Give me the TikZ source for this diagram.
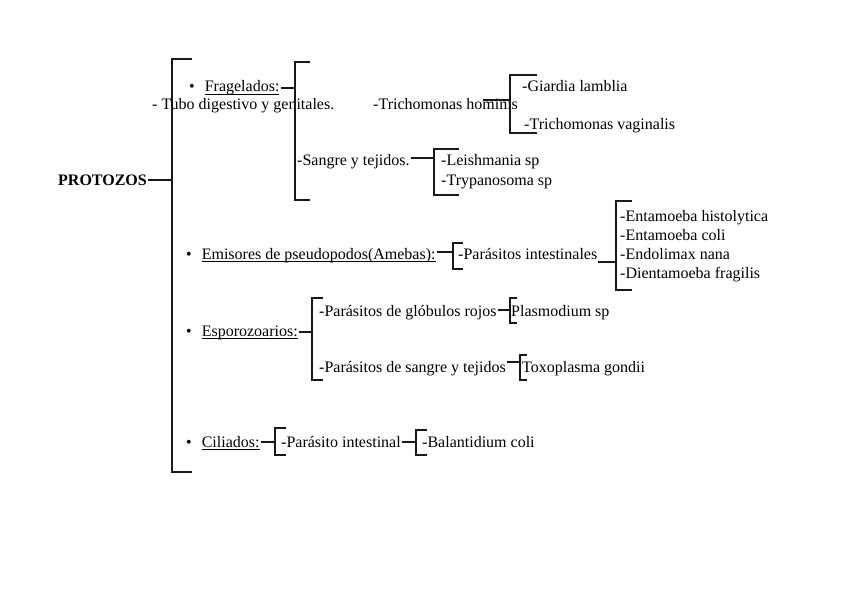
\documentclass[tikz,border=0pt]{standalone}
\usepackage{fontspec}
\setmainfont{Liberation Serif}
\usetikzlibrary{positioning}
\newlength\ulwd
\newcommand\ulabel[1]{\settowidth\ulwd{#1}\rlap{\rule[-2.6pt]{\ulwd}{0.8pt}}#1}

\begin{document}
\begin{tikzpicture}[
    x=1pt, y=-1pt,
    txt/.style={anchor=base west, inner xsep=1pt, inner ysep=0pt, font=\fontsize{16}{19}\selectfont},
    head/.style={txt, font=\fontsize{16}{19}\selectfont\bfseries},
    brk/.style={draw=black!90, line width=1.2pt},
    link/.style={draw=black!90, line width=1.2pt}
]
\useasboundingbox (0,0) rectangle (848,599);

% root
\node[head] (prot) at (57,185) {PROTOZOS};
\coordinate (cprot) at (172,180);
\draw[brk] (192,59) -| (172,472) -- (192,472);
\draw[link] (prot.east |- cprot) -- (cprot);

% Fragelados
\node[txt] (frag) at (188,92) {\textbullet\hspace{10pt}\ulabel{Fragelados:}};
\node[txt] (tubo) at (151,110) {- Tubo digestivo y genitales.};
\coordinate (cfrag) at (295,88);
\draw[brk] (310,62) -| (295,200) -- (310,200);
\draw[link] (frag.east |- cfrag) -- (cfrag);

\node[txt] (thom) at (372,110) {-Trichomonas hominis};
\node[txt] (giar) at (521,92) {-Giardia lamblia};
\node[txt] (tvag) at (523,129) {-Trichomonas vaginalis};
\coordinate (sthom) at (483,100);
\coordinate (cthom) at (510,100);
\draw[brk] (537,75) -| (510,133) -- (537,133);
\draw[link] (sthom) -- (cthom);

\node[txt] (sang) at (296,165) {-Sangre y tejidos.};
\node[txt] (leish) at (440,165) {-Leishmania sp};
\node[txt] (tryp) at (440,185) {-Trypanosoma sp};
\coordinate (csang) at (434,158);
\draw[brk] (459,149) -| (434,195) -- (459,195);
\draw[link] (sang.east |- csang) -- (csang);

% Amebas
\node[txt] (ameb) at (185,259) {\textbullet\hspace{10pt}\ulabel{Emisores de pseudopodos(Amebas):}};
\node[txt] (pint) at (457,259) {-Parásitos intestinales};
\coordinate (cameb) at (453,252);
\draw[brk] (463,243) -| (453,269) -- (463,269);
\draw[link] (ameb.east |- cameb) -- (cameb);

\node[txt] (ehis) at (619,221) {-Entamoeba histolytica};
\node[txt] (ecol) at (619,240) {-Entamoeba coli};
\node[txt] (enan) at (619,259) {-Endolimax nana};
\node[txt] (dfra) at (619,278) {-Dientamoeba fragilis};
\coordinate (cpint) at (616,262);
\draw[brk] (632,201) -| (616,290) -- (632,290);
\draw[link] (pint.east |- cpint) -- (cpint);

% Esporozoarios
\node[txt] (espo) at (185,336) {\textbullet\hspace{10pt}\ulabel{Esporozoarios:}};
\coordinate (cespo) at (312,332);
\draw[brk] (323,298) -| (312,380) -- (323,380);
\draw[link] (espo.east |- cespo) -- (cespo);

\node[txt] (pglo) at (318,316) {-Parásitos de glóbulos rojos};
\node[txt] (plas) at (510,316) {Plasmodium sp};
\coordinate (cpglo) at (510,310);
\draw[brk] (517,298) -| (510,323) -- (517,323);
\draw[link] (pglo.east |- cpglo) -- (cpglo);

\node[txt] (psan) at (318,372) {-Parásitos de sangre y tejidos};
\node[txt] (toxo) at (521,372) {Toxoplasma gondii};
\coordinate (cpsan) at (520,362);
\draw[brk] (527,355) -| (520,380) -- (527,380);
\draw[link] (psan.east |- cpsan) -- (cpsan);

% Ciliados
\node[txt] (cili) at (185,447) {\textbullet\hspace{10pt}\ulabel{Ciliados:}};
\node[txt] (pint2) at (280,447) {-Parásito intestinal};
\node[txt] (bala) at (421,447) {-Balantidium coli};
\coordinate (ccili) at (275,442);
\draw[brk] (286,428) -| (275,455) -- (286,455);
\draw[link] (cili.east |- ccili) -- (ccili);
\coordinate (cpint2) at (416,442);
\draw[brk] (427,430) -| (416,455) -- (427,455);
\draw[link] (pint2.east |- cpint2) -- (cpint2);

\end{tikzpicture}
\end{document}
